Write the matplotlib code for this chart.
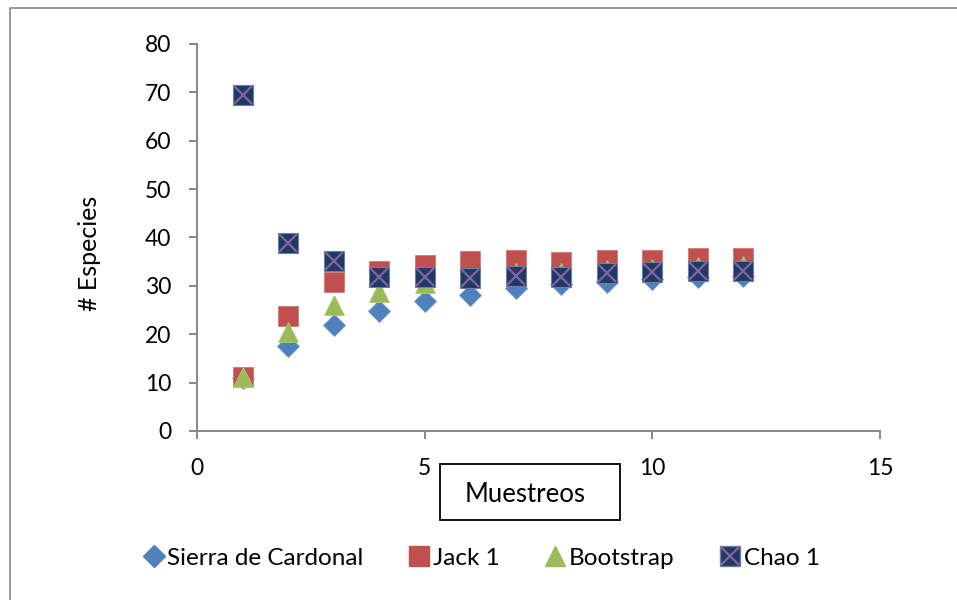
import matplotlib.pyplot as plt
from matplotlib.patches import Rectangle
from matplotlib.lines import Line2D

plt.rcParams['font.family'] = ['Lato', 'DejaVu Sans']

# muestreos
muestreos = [1, 2, 3, 4, 5, 6, 7, 8, 9, 10, 11, 12]
sierra = [11.0, 17.5, 21.9, 24.9, 26.9, 28.1, 29.5, 30.4, 30.9, 31.4, 31.8, 32.1]
jack1 = [11.2, 23.8, 30.7, 33.1, 34.3, 35.1, 35.4, 34.9, 35.4, 35.4, 35.7, 35.7]
bootstrap = [11.2, 20.5, 26.0, 28.8, 30.6, 31.6, 32.7, 32.7, 33.3, 33.5, 34.0, 34.1]
chao1 = [69.4, 38.8, 35.1, 31.8, 31.8, 31.7, 32.0, 31.9, 32.6, 32.8, 33.1, 33.1]

fig = plt.figure(figsize=(9.57, 6.0), dpi=100)
ax = fig.add_axes([0.206, 0.2817, 0.7135, 0.645])

ax.plot(muestreos, sierra, 'D', ms=11.2, color='#4F81BD', mec='#6F9AD0', mew=0.6, ls='none')
ax.plot(muestreos, jack1, 's', ms=14.4, color='#C0504D', mec='#D27876', mew=0.6, ls='none')
ax.plot(muestreos, bootstrap, '^', ms=14.4, color='#9BBB59', mec='#B0CB7A', mew=0.6, ls='none')
ax.plot(muestreos, chao1, 's', ms=14.4, color='#1F3864', mec='#6C7FA6', mew=0.8, ls='none')
ax.plot(muestreos, chao1, 'x', ms=13, color='#8064A2', mew=1.6, ls='none')

ax.set_xlim(0, 15)
ax.set_ylim(0, 80)
ax.set_xticks([0, 5, 10, 15])
ax.set_yticks(range(0, 81, 10))
for s in ['top', 'right']:
    ax.spines[s].set_visible(False)
for s in ['left', 'bottom']:
    ax.spines[s].set_color('#868686')
    ax.spines[s].set_linewidth(1.4)
ax.tick_params(axis='both', color='#868686', width=1.4, length=5.8, labelsize=16.5, direction='out')
ax.tick_params(axis='x', pad=14)
ax.tick_params(axis='y', pad=13)

fig.text(0.094, 1 - 253 / 600, '# Especies', rotation=90, fontsize=18, ha='center', va='center')

# caja del titulo del eje x
fig.patches.append(Rectangle((440 / 957, 1 - 520 / 600), 180 / 957, 56 / 600,
                             transform=fig.transFigure, fill=False, ec='black', lw=1.3))
fig.text(525 / 957, 1 - 494 / 600, 'Muestreos', fontsize=18.5, ha='center', va='center')

# marco exterior
fig.add_artist(Line2D([10 / 957, 10 / 957, 1.0], [0.0, 1 - 8 / 600, 1 - 8 / 600],
                      transform=fig.transFigure, color='#868686', lw=1.2))

h1 = Line2D([], [], marker='D', ms=11.2, color='#4F81BD', ls='none')
h2 = Line2D([], [], marker='s', ms=14.4, color='#C0504D', ls='none')
h3 = Line2D([], [], marker='^', ms=14.4, color='#9BBB59', ls='none')
h4a = Line2D([], [], marker='s', ms=14.4, color='#1F3864', mec='#6C7FA6', ls='none')
h4b = Line2D([], [], marker='x', ms=13, color='#8064A2', mew=1.6, ls='none')
fig.legend([h1, h2, h3, (h4a, h4b)],
           ['Sierra de Cardonal', 'Jack 1', 'Bootstrap', 'Chao 1'],
           loc='center', bbox_to_anchor=(0.503, 1 - 558 / 600), ncol=4, frameon=False,
           fontsize=17.5, handlelength=0.9, handletextpad=0.1, columnspacing=1.85)

fig.savefig('out.png', dpi=100)
